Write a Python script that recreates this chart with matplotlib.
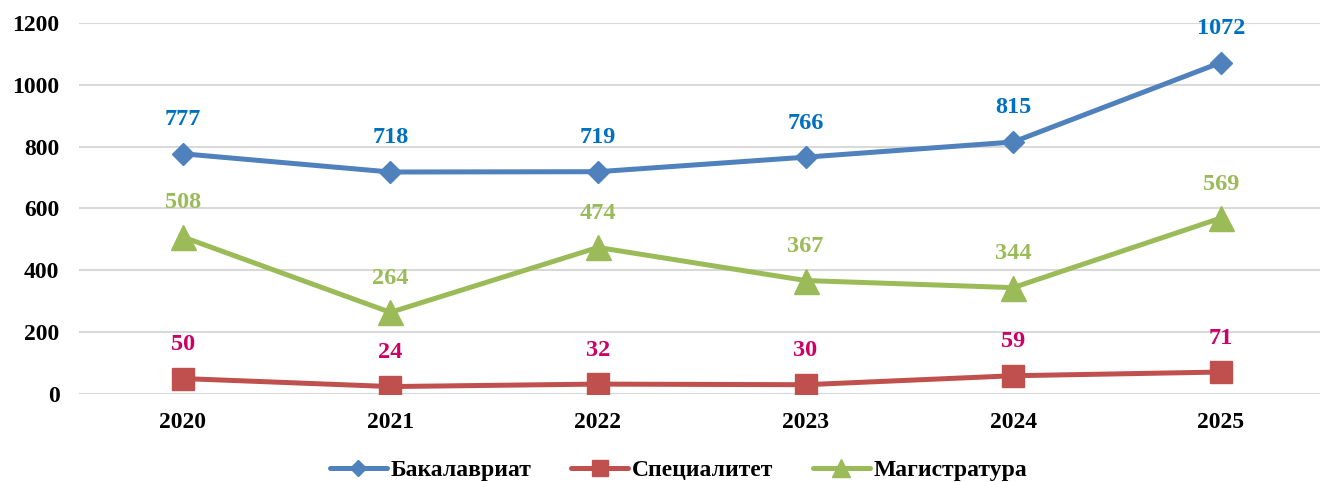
import matplotlib
matplotlib.use('Agg')
import matplotlib.pyplot as plt
import numpy as np

plt.rcParams['font.family'] = ['Liberation Serif', 'DejaVu Serif']
plt.rcParams['font.weight'] = 'bold'

# Data
years = ['2020', '2021', '2022', '2023', '2024', '2025']
bakalavriat = [777, 718, 719, 766, 815, 1072]
specialitet = [50, 24, 32, 30, 59, 71]
magistratura = [508, 264, 474, 367, 344, 569]

x = np.arange(len(years)) + 0.5

fig = plt.figure(figsize=(13.2, 4.82), dpi=100)
ax = fig.add_axes([0.0598, 0.1826, 0.9402, 0.7697])

series = [
    ('Бакалавриат', bakalavriat, '#4F81BD', 'D', 11.5, '#0070C0'),
    ('Специалитет', specialitet, '#C0504D', 's', 16.5, '#CC0066'),
    ('Магистратура', magistratura, '#9BBB59', '^', 18, '#9BBB59'),
]

for name, vals, col, mk, ms, lcol in series:
    ax.plot(x, vals, color=col, lw=3.6, marker=mk, ms=ms, label=name,
            solid_capstyle='round')
    for xi, v in zip(x, vals):
        ax.annotate(str(v), (xi, v), xytext=(0, 24.5), textcoords='offset points',
                    ha='center', va='center', color=lcol, fontsize=17.5,
                    fontweight='bold')

ax.set_ylim(0, 1200)
ax.set_yticks(range(0, 1201, 200))
ax.set_xlim(0, 5.978)
ax.set_xticks(x)
ax.set_xticklabels(years)
ax.tick_params(axis='both', length=0, labelsize=17)
ax.tick_params(axis='x', pad=13)
ax.tick_params(axis='y', pad=14)
ax.grid(axis='y', color='#D9D9D9', lw=1.5)
ax.set_axisbelow(True)
for s in ax.spines.values():
    s.set_visible(False)

leg = fig.legend(loc='lower center', bbox_to_anchor=(0.514, -0.042), ncol=3,
                 frameon=False, fontsize=17, handlelength=2.4,
                 columnspacing=1.7, handletextpad=0.15, markerscale=0.7)

fig.savefig('out.png', dpi=100)
